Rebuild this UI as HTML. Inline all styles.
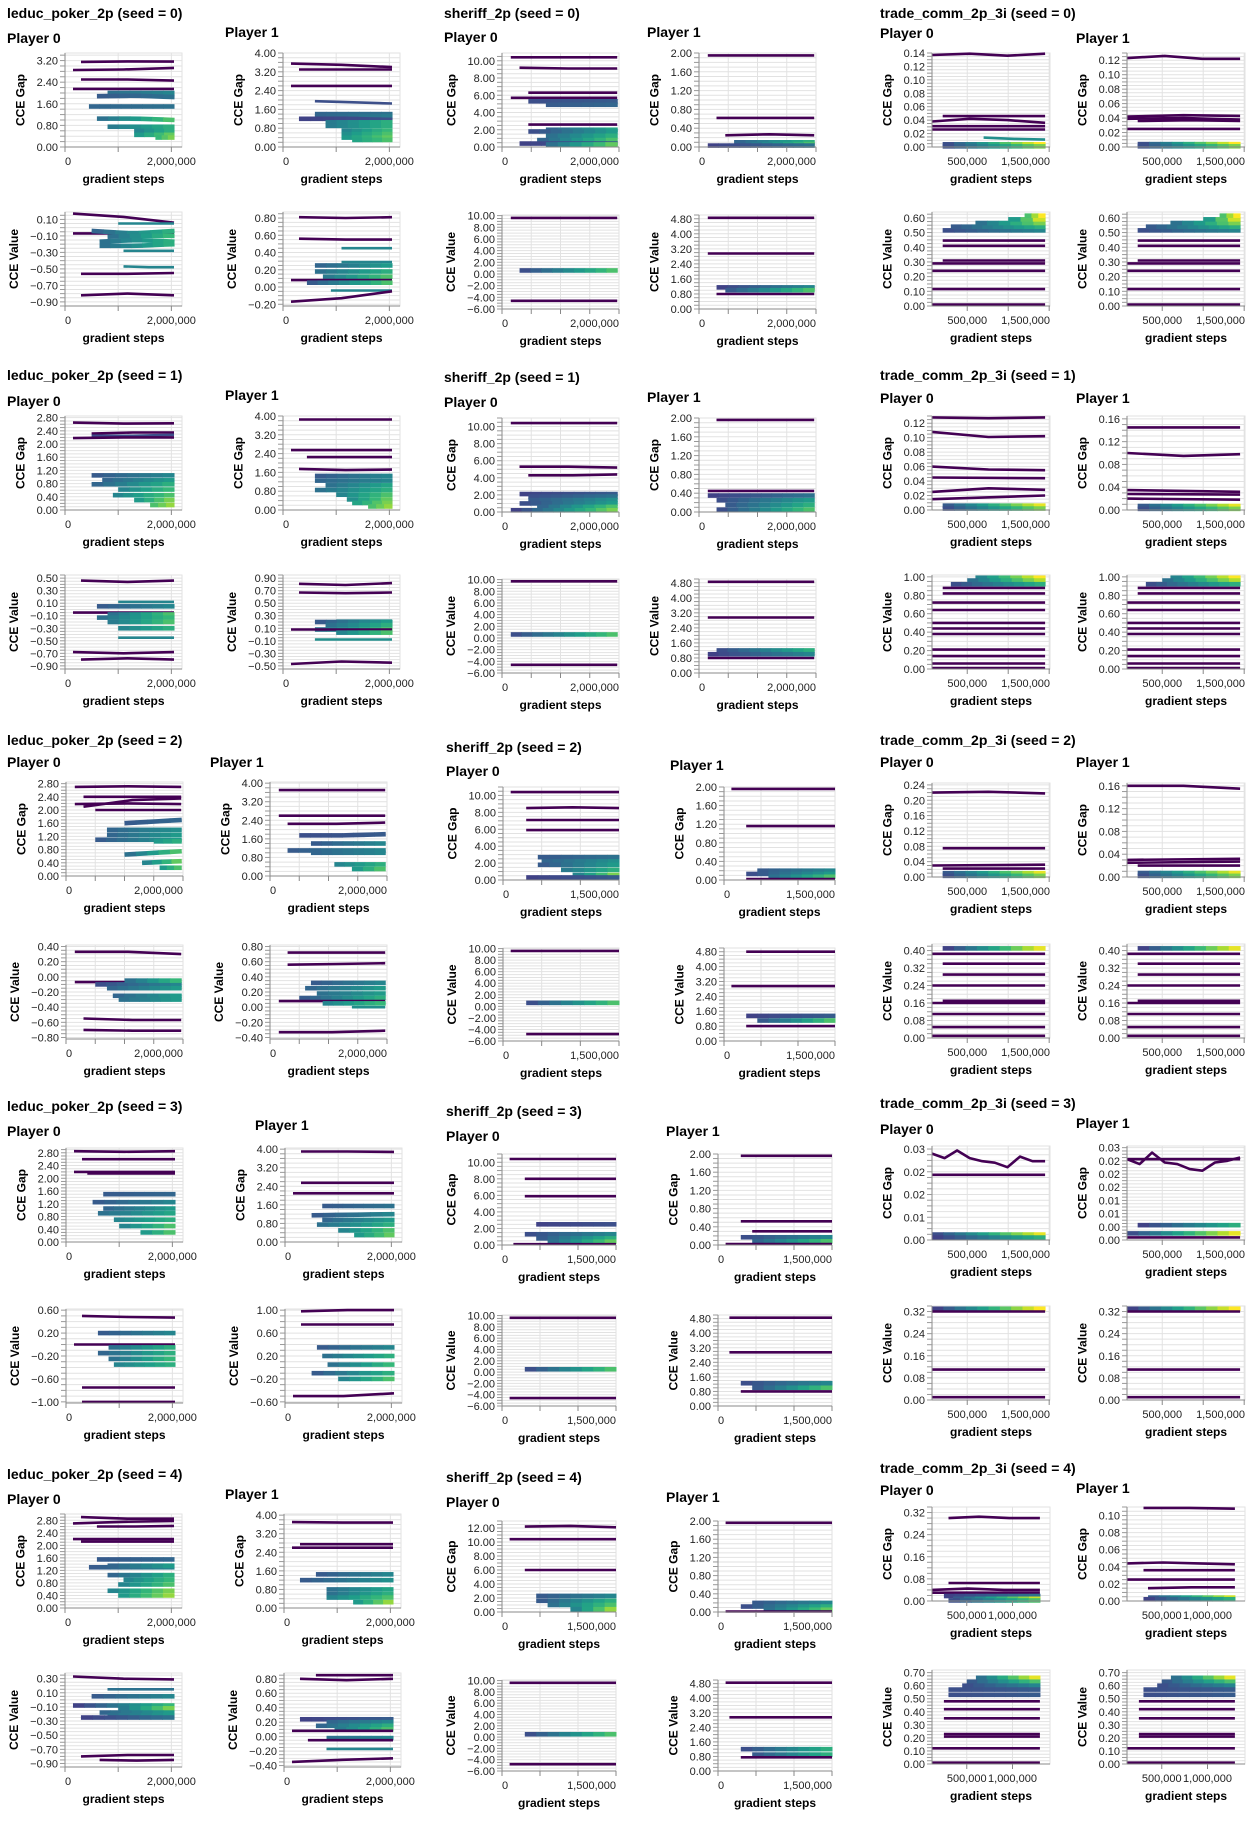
<!DOCTYPE html>
<html><head><meta charset="utf-8">
<style>
html,body{margin:0;padding:0;background:#fff;}
svg{display:block;font-family:"Liberation Sans",Arial,sans-serif;}
</style></head>
<body>
<svg id="root" width="1253" height="1821" viewBox="0 0 1253 1821" xmlns="http://www.w3.org/2000/svg"></svg>
<script>
// ---- data: each line = [startStep(M), colorStart, colorEnd, y values...] ----
const s0_lp_p0_gap=[[0.3,0,0,3.15,3.17,3.16],[0.15,0,0,2.85,2.87,2.93],[0.3,0,0,2.5,2.5,2.46],[0.15,0,0,2.15,2.15,2.15],[0.8,0.2,0.3,2.0,2.0,2.0],[0.6,0.1,0.2,1.88,1.9,1.85],[0.45,0.15,0.2,1.5,1.5,1.5],[0.6,0.2,0.6,1.05,1.05,1.0],[0.8,0.25,0.5,0.75,0.75,0.75],[1.3,0.3,0.5,0.6,0.6,0.6],[1.3,0.4,0.65,0.45,0.45,0.45],[1.7,0.55,0.7,0.35,0.35]];
const s0_lp_p1_gap=[[0.15,0,0,3.55,3.5,3.4],[0.3,0,0,3.3,3.3,3.3],[0.15,0,0,2.6,2.6,2.6],[0.6,0.05,0.05,1.95,1.9,1.85],[0.6,0.15,0.2,1.4,1.4,1.4],[0.6,0.15,0.25,1.3,1.3,1.3],[0.3,0,0.05,1.2,1.2,1.15],[0.8,0.25,0.5,1.05,1.05,1.05],[0.8,0.25,0.5,0.9,0.9,0.9],[1.1,0.3,0.55,0.7,0.7,0.7],[1.1,0.35,0.6,0.55,0.55,0.55],[1.1,0.4,0.65,0.4,0.4,0.4],[1.3,0.45,0.6,0.3,0.3,0.3]];
const s0_lp_p0_val=[[0.15,0,0,0.17,0.13,0.06],[1.0,0.3,0.3,0.05,0.05,0.05],[0.15,0,0,-0.07,-0.07,-0.07],[0.5,0.15,0.5,-0.04,-0.07,-0.04],[0.8,0.2,0.55,-0.11,-0.1,-0.1],[0.65,0.2,0.5,-0.17,-0.15,-0.17],[0.65,0.2,0.5,-0.22,-0.22,-0.2],[1.1,0.3,0.3,-0.28,-0.28,-0.28],[1.1,0.3,0.3,-0.47,-0.48,-0.48],[0.3,0,0,-0.56,-0.56,-0.55],[0.3,0,0,-0.82,-0.8,-0.82]];
const s0_lp_p1_val=[[0.3,0,0,0.81,0.8,0.81],[0.3,0,0,0.56,0.55,0.55],[1.1,0.3,0.3,0.45,0.45,0.45],[1.1,0.3,0.3,0.29,0.29,0.29],[0.6,0.15,0.4,0.25,0.25,0.25],[0.6,0.2,0.5,0.18,0.18,0.18],[0.75,0.25,0.6,0.12,0.12,0.12],[0.15,0,0,0.08,0.08,0.08],[0.45,0.1,0.6,0.05,0.05,0.05],[0.9,0.3,0.3,-0.04,-0.04,-0.04],[0.15,0,0,-0.17,-0.13,-0.05]];
const s0_sh_p0_gap=[[0.15,0,0,10.4],[0.3,0,0,9.2,9.1,9.1],[0.45,0,0,6.3,6.3,6.3],[0.15,0,0,5.7],[0.45,0.05,0.1,5.3],[0.75,0.1,0.15,4.9],[0.45,0,0,2.6],[0.75,0.15,0.45,2.0],[0.45,0.05,0.4,1.8],[0.75,0.2,0.5,1.3],[0.6,0.15,0.6,0.8],[0.3,0,0.1,0.4],[0.75,0.2,0.65,0.3]];
const s0_sh_p1_gap=[[0.15,0,0,1.95],[0.3,0,0,0.62],[0.45,0,0,0.25,0.27,0.25],[0.6,0.15,0.5,0.1],[0.9,0.25,0.6,0.06],[0.15,0,0.2,0.03]];
const s0_sh_p0_val=[[0.15,0,0,9.6],[0.3,0.05,0.6,0.6],[0.15,0,0,-4.6]];
const s0_sh_p1_val=[[0.15,0,0,4.85],[0.15,0,0,2.95],[0.3,0,0.3,1.15],[0.45,0.1,0.6,1.0],[0.3,0,0,0.8]];
const s0_tc_p0_gap=[[0.07,0,0,0.137,0.139,0.136,0.139],[0.2,0,0,0.046],[0.07,0,0,0.038,0.042,0.04,0.036],[0.07,0,0,0.031],[0.07,0,0,0.026],[0.7,0.35,0.35,0.014,0.012,0.011],[0.2,0.05,0.95,0.004],[0.2,0.05,0.7,0.001]];
const s0_tc_p1_gap=[[0.07,0,0,0.123,0.126,0.122,0.122],[0.07,0,0,0.042,0.044,0.043],[0.07,0,0,0.039,0.04,0.038],[0.2,0,0,0.036,0.037,0.036],[0.07,0,0,0.025],[0.2,0.05,0.95,0.004],[0.2,0.05,0.7,0.001]];
const s0_tc_val=[[0.2,0.05,0.3,0.515],[0.3,0.1,0.5,0.54],[0.6,0.2,0.7,0.565],[1.0,0.4,0.85,0.59],[1.2,0.6,0.95,0.615],[0.2,0,0,0.445],[0.2,0,0,0.41],[0.2,0,0,0.31],[0.07,0,0,0.29],[0.07,0,0,0.24],[0.07,0,0,0.115],[0.07,0,0,0.01]];

const s1_lp_p0_gap=[[0.15,0,0,2.65,2.62,2.63],[0.5,0,0,2.32,2.35,2.35],[0.5,0.05,0.05,2.25,2.25,2.28],[0.15,0,0,2.18,2.2,2.2],[0.5,0.1,0.3,1.05],[0.7,0.15,0.4,0.9],[0.5,0.15,0.5,0.78],[1.0,0.3,0.55,0.62],[0.9,0.3,0.6,0.45],[1.3,0.4,0.7,0.3],[1.6,0.6,0.75,0.15]];
const s1_lp_p1_gap=[[0.3,0,0,3.85],[0.15,0,0,2.55],[0.45,0,0,2.25],[0.3,0,0,1.75,1.7,1.72],[0.6,0.1,0.3,1.45],[0.6,0.15,0.3,1.25],[0.8,0.2,0.45,1.05],[0.6,0.2,0.5,0.85],[1.0,0.3,0.6,0.65],[1.2,0.35,0.65,0.45],[1.3,0.45,0.7,0.3],[1.6,0.6,0.75,0.15]];
const s1_lp_p0_val=[[0.3,0,0,0.46,0.44,0.46],[1.0,0.3,0.3,0.12],[0.6,0.1,0.3,0.05],[0.15,0,0,-0.05],[0.8,0.2,0.6,-0.08],[0.6,0.2,0.55,-0.13],[0.8,0.25,0.6,-0.2],[1.0,0.3,0.5,-0.3],[1.0,0.3,0.3,-0.45],[0.15,0,0,-0.68,-0.7,-0.68],[0.3,0,0,-0.8,-0.78,-0.8]];
const s1_lp_p1_val=[[0.3,0,0,0.81,0.79,0.82],[0.3,0,0,0.67,0.66,0.67],[1.0,0.3,0.3,0.22],[0.6,0.1,0.4,0.2],[0.8,0.2,0.5,0.15],[0.6,0.2,0.6,0.08],[0.15,0,0,0.08],[1.0,0.3,0.6,0.03],[0.6,0.35,0.35,-0.08],[0.15,0,0,-0.47,-0.43,-0.45]];
const s1_sh_p0_gap=[[0.15,0,0,10.4],[0.3,0,0,5.3,5.3,5.2],[0.45,0,0,4.3,4.3,4.4],[0.3,0,0.1,2.1],[0.45,0.05,0.2,1.8],[0.45,0.1,0.35,1.4],[0.3,0.05,0.4,1.0],[0.6,0.15,0.6,0.6],[0.15,0,0.7,0.2]];
const s1_sh_p1_gap=[[0.3,0,0,1.96],[0.15,0,0,0.45],[0.15,0,0.2,0.35],[0.3,0.05,0.4,0.25],[0.45,0.1,0.5,0.15],[0.3,0.05,0.6,0.05]];
const s1_sh_p0_val=[[0.15,0,0,9.7],[0.15,0.05,0.6,0.6],[0.15,0,0,-4.6]];
const s1_sh_p1_val=[[0.15,0,0,4.85],[0.15,0,0,2.95],[0.3,0.05,0.5,1.2],[0.15,0,0.3,1.0],[0.15,0,0,0.8]];
const s1_tc_p0_gap=[[0.07,0,0,0.128,0.127,0.128],[0.07,0,0,0.108,0.101,0.102],[0.07,0,0,0.06,0.056,0.055],[0.07,0,0,0.045,0.044],[0.07,0,0,0.025,0.03,0.028],[0.07,0,0,0.015,0.02],[0.2,0.1,0.9,0.006],[0.2,0.05,0.7,0.002]];
const s1_tc_p1_gap=[[0.07,0,0,0.145],[0.07,0,0,0.1,0.095,0.098],[0.07,0,0,0.035,0.032],[0.07,0,0,0.028,0.027],[0.07,0,0,0.02,0.018],[0.2,0.1,0.9,0.007],[0.2,0.05,0.7,0.002]];
const s1_tc_val=[[0.6,0.3,0.95,0.99],[0.5,0.2,0.8,0.96],[0.3,0.05,0.5,0.92],[0.2,0,0,0.88],[0.2,0,0,0.82],[0.07,0,0,0.72],[0.07,0,0,0.64],[0.07,0,0,0.5],[0.07,0,0,0.44],[0.07,0,0,0.38],[0.07,0,0,0.21],[0.07,0,0,0.14],[0.07,0,0,0.06],[0.07,0,0,0.01]];

const s2_lp_p0_gap=[[0.15,0,0,2.7,2.72,2.7],[0.3,0,0,2.4],[0.15,0,0,2.18,2.2,2.18],[0.3,0,0,2.1,2.3,2.35],[0.5,0,0,2.0],[1.0,0.1,0.15,1.6,1.65,1.7],[0.7,0.15,0.35,1.4],[0.7,0.15,0.4,1.25],[0.5,0.1,0.4,1.1],[1.5,0.4,0.5,1.05],[1.0,0.2,0.6,0.65,0.7,0.75],[1.3,0.3,0.65,0.4,0.45],[1.6,0.4,0.6,0.25]];
const s2_lp_p1_gap=[[0.15,0,0,3.7],[0.15,0,0,2.6],[0.3,0,0,2.25,2.25,2.3],[0.5,0.05,0.1,1.75,1.75,1.8],[0.7,0.1,0.3,1.4],[0.3,0.1,0.3,1.1],[0.7,0.15,0.3,1.0],[1.1,0.3,0.5,0.5],[1.4,0.4,0.6,0.3]];
const s2_lp_p0_val=[[0.15,0,0,0.33,0.33,0.3],[0.15,0,0,-0.07],[0.5,0.05,0.3,-0.1],[1.0,0.2,0.55,-0.05],[0.7,0.15,0.4,-0.15],[0.8,0.15,0.4,-0.25],[0.9,0.2,0.4,-0.3],[0.3,0,0,-0.55,-0.57,-0.57],[0.3,0,0,-0.7,-0.71,-0.71]];
const s2_lp_p1_val=[[0.3,0,0,0.72],[0.3,0,0,0.56,0.57,0.58],[0.7,0.1,0.3,0.32],[0.6,0.15,0.4,0.25],[0.8,0.2,0.4,0.18],[0.5,0.1,0.5,0.12],[0.15,0,0,0.08],[0.9,0.3,0.55,0.05],[1.4,0.35,0.35,0.0],[0.15,0,0,-0.33,-0.33,-0.31]];
const s2_sh_p0_gap=[[0.1,0,0,10.4],[0.3,0,0,8.5,8.6,8.5],[0.3,0,0,7.1],[0.3,0,0,5.9],[0.45,0.1,0.2,2.7],[0.5,0.15,0.35,2.2],[0.45,0.1,0.4,1.8],[0.75,0.25,0.5,1.2],[0.9,0.3,0.7,0.6],[0.3,0,0.1,0.3]];
const s2_sh_p1_gap=[[0.1,0,0,1.96],[0.3,0,0,1.16],[0.45,0.1,0.3,0.2],[0.3,0.05,0.4,0.13],[0.6,0.2,0.6,0.07],[0.3,0,0,0.02]];
const s2_sh_p0_val=[[0.1,0,0,9.6],[0.3,0.05,0.6,0.6],[0.3,0,0,-4.8]];
const s2_sh_p1_val=[[0.3,0,0,4.8],[0.1,0,0,2.95],[0.3,0,0.1,1.35],[0.45,0.1,0.6,1.1],[0.3,0,0,0.8]];
const s2_tc_p0_gap=[[0.07,0,0,0.22,0.222,0.218],[0.2,0,0,0.075],[0.07,0,0,0.03,0.032],[0.2,0,0,0.022],[0.2,0.1,0.9,0.01],[0.2,0.05,0.7,0.003]];
const s2_tc_p1_gap=[[0.07,0,0,0.16,0.16,0.155],[0.07,0,0,0.03,0.032],[0.07,0,0,0.025,0.027],[0.2,0,0,0.02],[0.2,0.1,0.9,0.007],[0.2,0.05,0.7,0.002]];
const s2_tc_val=[[0.2,0,0.9,0.41],[0.07,0,0,0.385],[0.2,0,0,0.34],[0.2,0,0,0.29],[0.07,0,0,0.24],[0.2,0,0,0.17],[0.07,0,0,0.16],[0.07,0,0,0.11],[0.07,0,0,0.05],[0.07,0,0,0.01]];

const s3_lp_p0_gap=[[0.15,0,0,2.85,2.83,2.85],[0.3,0,0,2.6],[0.15,0,0,2.2],[0.4,0,0,2.15],[0.7,0.1,0.15,1.5],[0.5,0.1,0.3,1.25],[0.7,0.15,0.4,1.05],[0.6,0.2,0.45,0.9],[0.9,0.3,0.5,0.7],[1.0,0.3,0.6,0.5],[1.4,0.4,0.6,0.3]];
const s3_lp_p1_gap=[[0.3,0,0,3.9,3.9,3.88],[0.3,0,0,2.55],[0.15,0,0,2.1],[0.7,0.1,0.2,1.55],[0.5,0.1,0.3,1.15,1.2],[0.7,0.15,0.4,0.95],[0.6,0.2,0.5,0.75],[1.0,0.3,0.6,0.5],[1.3,0.4,0.65,0.3]];
const s3_lp_p0_val=[[0.3,0,0,0.5,0.48,0.47],[0.6,0.1,0.3,0.2],[0.15,0,0,0.0],[0.8,0.2,0.5,-0.05],[0.6,0.15,0.5,-0.15],[0.8,0.2,0.55,-0.25],[0.9,0.3,0.5,-0.35],[0.3,0,0,-0.75],[0.3,0,0,-1.0]];
const s3_lp_p1_val=[[0.3,0,0,0.98,1.0,1.0],[0.3,0,0,0.75],[0.6,0.1,0.3,0.35],[0.7,0.2,0.5,0.2],[0.8,0.2,0.55,0.05],[0.5,0.1,0.5,-0.1],[1.0,0.3,0.6,-0.2],[0.15,0,0,-0.5,-0.5,-0.45]];
const s3_sh_p0_gap=[[0.1,0,0,10.4],[0.3,0,0,8.0],[0.3,0,0,5.9],[0.45,0,0.05,2.5],[0.3,0.05,0.3,1.3],[0.45,0.1,0.5,0.8],[0.6,0.2,0.65,0.4],[0.15,0,0,0.1]];
const s3_sh_p1_gap=[[0.3,0,0,1.96],[0.3,0,0,0.52],[0.45,0,0,0.3],[0.3,0.05,0.3,0.17],[0.45,0.15,0.6,0.08],[0.1,0,0,0.02]];
const s3_sh_p0_val=[[0.1,0,0,9.6],[0.3,0.05,0.6,0.5],[0.1,0,0,-4.6]];
const s3_sh_p1_val=[[0.15,0,0,4.85],[0.15,0,0,2.95],[0.3,0.05,0.3,1.25],[0.45,0.1,0.6,1.0],[0.3,0,0,0.8]];
const s3_tc_p0_gap=[[0.07,0,0,0.0285,0.027,0.0295,0.027,0.026,0.0255,0.024,0.0275,0.026,0.026],[0.07,0,0,0.0215],[0.07,0.05,0.9,0.0018],[0.07,0,0.5,0.0008]];
const s3_tc_p1_gap=[[0.07,0,0,0.0245,0.023,0.0265,0.0235,0.023,0.0215,0.021,0.0235,0.024,0.025],[0.07,0,0,0.0245],[0.2,0,0.5,0.0045],[0.07,0.05,0.9,0.002],[0.07,0,0,0.0008]];
const s3_tc_val=[[0.07,0,0.95,0.33],[0.07,0,0,0.32],[0.07,0,0,0.11],[0.07,0,0,0.01]];

const s4_lp_p0_gap=[[0.3,0,0,2.9,2.85,2.85],[0.15,0,0,2.7,2.75,2.78],[0.6,0,0,2.6,2.6,2.62],[0.15,0,0,2.2,2.2],[0.3,0,0,2.12,2.12],[0.6,0.1,0.15,1.55],[0.45,0.1,0.3,1.3],[0.8,0.15,0.4,1.35],[0.8,0.15,0.5,1.05],[1.1,0.3,0.55,0.9],[1.0,0.3,0.6,0.75],[0.8,0.3,0.7,0.55],[1.0,0.4,0.75,0.4]];
const s4_lp_p1_gap=[[0.15,0,0,3.7,3.68,3.68],[0.3,0,0,2.75],[0.15,0,0,2.6],[0.6,0.1,0.3,1.45],[0.3,0.1,0.35,1.2],[0.8,0.2,0.45,0.8],[0.8,0.2,0.5,0.6],[0.8,0.3,0.6,0.45],[1.3,0.4,0.75,0.25]];
const s4_lp_p0_val=[[0.15,0,0,0.33,0.3,0.29],[0.8,0.2,0.2,0.15],[0.5,0.1,0.3,0.05],[0.15,0,0.55,-0.08],[1.0,0.25,0.7,-0.12],[0.65,0.15,0.4,-0.18],[0.8,0.2,0.4,-0.22],[0.3,0,0.2,-0.25],[0.3,0,0,-0.8,-0.78,-0.78],[0.65,0,0,-0.85,-0.86,-0.85]];
const s4_lp_p1_val=[[0.6,0,0,0.85,0.85,0.85],[0.3,0,0,0.8,0.78,0.8],[0.3,0,0.1,0.24],[0.8,0.15,0.3,0.2],[0.6,0.15,0.5,0.15],[0.95,0.25,0.6,0.1],[0.15,0,0,0.08],[0.8,0.2,0.3,-0.02],[0.45,0,0,-0.05],[0.8,0.3,0.3,-0.17],[0.15,0,0,-0.35,-0.32,-0.3]];
const s4_sh_p0_gap=[[0.3,0,0,12.2,12.3,12.1],[0.1,0,0,10.4],[0.3,0,0,6.0],[0.45,0.1,0.3,2.3],[0.45,0.1,0.5,1.6],[0.6,0.2,0.6,1.0],[0.9,0.3,0.75,0.4]];
const s4_sh_p1_gap=[[0.1,0,0,1.96],[0.45,0.1,0.3,0.2],[0.3,0.05,0.5,0.12],[0.6,0.2,0.65,0.05],[0.1,0,0,0.01]];
const s4_sh_p0_val=[[0.1,0,0,9.6],[0.3,0.05,0.6,0.5],[0.1,0,0,-4.8]];
const s4_sh_p1_val=[[0.1,0,0,4.85],[0.15,0,0,2.95],[0.3,0.05,0.5,1.2],[0.45,0.1,0.5,0.9],[0.3,0,0,0.75]];
const s4_tc_p0_gap=[[0.3,0,0,0.3,0.305,0.3,0.3],[0.3,0,0,0.065],[0.12,0,0,0.04,0.045,0.04,0.04],[0.12,0,0,0.03],[0.25,0,0.2,0.018],[0.35,0.1,0.85,0.008],[0.3,0.05,0.6,0.002]];
const s4_tc_p1_gap=[[0.3,0,0,0.109,0.109,0.108],[0.12,0,0,0.044,0.045,0.044,0.043],[0.3,0,0,0.036],[0.12,0,0,0.025],[0.35,0,0,0.015,0.016,0.016],[0.35,0.1,0.85,0.004],[0.3,0,0.5,0.002]];
const s4_tc_val=[[0.6,0.2,0.9,0.66],[0.5,0.1,0.6,0.63],[0.45,0.05,0.3,0.6],[0.3,0.05,0.1,0.57],[0.3,0.05,0.1,0.53],[0.25,0,0,0.48],[0.25,0,0,0.42],[0.25,0,0,0.35],[0.25,0,0,0.23],[0.25,0,0,0.21],[0.12,0,0,0.12],[0.12,0,0,0.01]];

// tick label overrides
const s3_tc_p0_ticks=[0,0.0075,0.015,0.0225,0.03];
const s3_tc_p0_labels=["0.00","0.01","0.02","0.02","0.03"];

// ---- axis configs ----
const AX_LP_WIDE={xd:[0,2.2],xend:2.05,grid:[0,1,2],labels:[[0,"0","start"],[2,"2,000,000","middle"]]};
const AX_HALF2={xd:[0,2],xend:1.97,grid:[0,0.5,1,1.5,2],labels:[[0,"0","start"],[2,"2,000,000","end"]]};
const AX_HALF15={xd:[0,1.5],xend:1.5,grid:[0,0.5,1,1.5],labels:[[0,"0","start"],[1.5,"1,500,000","end"]]};
const AX_TC={xd:[0.07,1.51],xend:1.45,grid:[0.5,1,1.5],labels:[[0.5,"500,000","middle"],[1.51,"1,500,000","end"]]};
const AX_TC4={xd:[0.12,1.41],xend:1.3,grid:[0.5,1],labels:[[0.5,"500,000","middle"],[1.0,"1,000,000","middle"]]};

const NS="http://www.w3.org/2000/svg";
const root=document.getElementById('root');
const VIR=['#440154','#482878','#3e4989','#31688e','#26828e','#1f9e89','#35b779','#6ece58','#b5de2b','#fde725'];
function hex(h){return [parseInt(h.slice(1,3),16),parseInt(h.slice(3,5),16),parseInt(h.slice(5,7),16)];}
function vir(t){t=Math.max(0,Math.min(1,t));const f=t*9,i=Math.min(8,Math.floor(f)),r=f-i;const a=hex(VIR[i]),b=hex(VIR[i+1]);
return 'rgb('+a.map((v,k)=>Math.round(v+(b[k]-v)*r)).join(',')+')';}
function el(tag,attrs,parent){const e=document.createElementNS(NS,tag);for(const k in attrs)e.setAttribute(k,attrs[k]);(parent||root).appendChild(e);return e;}
function txt(x,y,s,attrs,parent){const t=el('text',Object.assign({x:x,y:y},attrs),parent);t.textContent=s;return t;}
function fmt(v){if(Math.abs(v)<1e-9)v=0;let s=v.toFixed(2);return s.replace('-','\u2212');}
function labW(s){let w=0;for(const c of s){w+= c==='.'?3.05:(c==='\u2212'?6.4:6.12);}return w;}

function panel(P){
  const g=el('g',{});
  
  
  const A=P.ax,x0=A.xd[0],x1=A.xd[1],y0=P.yd[0],y1=P.yd[1];
  const sx=v=>P.x+(v-x0)/(x1-x0)*P.w;
  const sy=v=>P.y+P.h-(v-y0)/(y1-y0)*P.h;
  let majors=[],minors=[];
  if(P.tv){majors=P.tv.map((v,i)=>[v,P.tl[i]]);
    for(let i=0;i<P.tv.length-1;i++){for(let k=0;k<4;k++)minors.push(P.tv[i]+(P.tv[i+1]-P.tv[i])*k/4);}minors.push(P.tv[P.tv.length-1]);}
  else{const f=P.yt[0],st=P.yt[1];
    for(let k=0;;k++){const v=f+k*st;if(v>y1+1e-9)break;if(v>=y0-1e-9)majors.push([v,fmt(v)]);}
    for(let k=-8;;k++){const v=f+k*st/4;if(v>y1+1e-9)break;if(v>=y0-1e-9)minors.push(v);}}
  const grid=el('g',{stroke:'#e2e2e2','stroke-width':1},g);
  
  
  minors.forEach(v=>el('line',{x1:P.x,x2:P.x+P.w,y1:sy(v),y2:sy(v)},grid));
  A.grid.forEach(v=>el('line',{x1:sx(v),x2:sx(v),y1:P.y,y2:P.y+P.h},grid));
  el('rect',{x:P.x,y:P.y,width:P.w,height:P.h,fill:'none',stroke:'#e2e2e2'},g);
  const marks=el('g',{fill:'none','stroke-linecap':'butt'},g);
  
  
  P.lines.forEach(L=>{
    const xs=L[0],c0=L[1],c1=L[2];let ys=L.slice(3);if(ys.length===1)ys=[ys[0],ys[0]];
    const n=ys.length,xe=A.xend;
    const yAt=u=>{const f=u*(n-1),i=Math.min(n-2,Math.floor(f)),r=f-i;return ys[i]+(ys[i+1]-ys[i])*r;};
    if(c1>c0){
      const len=sx(xe)-sx(xs),N=Math.max(3,Math.round(len/11));
      for(let k=0;k<N;k++){const ua=k/N,ub=(k+1)/N;
        const t=c0+(c1-c0)*k/(N-1);
        const s=el('line',{x1:sx(xs+(xe-xs)*ua),x2:sx(xs+(xe-xs)*ub)+0.5,y1:sy(yAt(ua)),y2:sy(yAt(ub)),stroke:vir(0.2+0.85*t),'stroke-width':4.6},marks);
        
        }
    }else{
      const pts=ys.map((v,i)=>sx(xs+(xe-xs)*i/(n-1)).toFixed(1)+','+sy(v).toFixed(1)).join(' ');
      const col=c0>0?vir(0.2+0.85*c0):vir(0);
      const pl=el('polyline',{points:pts,stroke:col,'stroke-width':2.6,'stroke-linejoin':'round'},marks);
      
      }
  });
  const ax=el('g',{},g);
  
  
  el('line',{x1:P.x,x2:P.x,y1:P.y,y2:P.y+P.h,stroke:'#888'},ax);
  el('line',{x1:P.x,x2:P.x+P.w,y1:P.y+P.h,y2:P.y+P.h,stroke:'#888'},ax);
  minors.forEach(v=>el('line',{x1:P.x-5,x2:P.x,y1:sy(v),y2:sy(v),stroke:'#999'},ax));
  let mw=0;
  majors.forEach(m=>{txt(P.x-7,sy(m[0])+4,m[1],{'font-size':11,'text-anchor':'end',fill:'#222'},ax);mw=Math.max(mw,labW(m[1]));});
  A.grid.forEach(v=>el('line',{x1:sx(v),x2:sx(v),y1:P.y+P.h,y2:P.y+P.h+5,stroke:'#888'},ax));
  A.labels.forEach(l=>{let px=Math.min(sx(l[0]),P.x+P.w);txt(px,P.y+P.h+18,l[1],{'font-size':11,'text-anchor':l[2],fill:'#222'},ax);});
  const xt=txt(P.x+P.w/2,P.y+P.h+36,'gradient steps',{'font-size':12,'font-weight':'bold','text-anchor':'middle',fill:'#000'},ax);
  
  
  const tx=P.x-7-mw-12,ty=P.y+P.h/2;
  const yt=txt(tx,ty,P.ytitle,{'font-size':12,'font-weight':'bold','text-anchor':'middle',fill:'#000',transform:'rotate(-90 '+tx+' '+ty+')'},ax);
  
  
}

function title(x,y,s,size,name){const t=txt(x,y+5,s,{'font-size':size,'font-weight':'bold',fill:'#000'});
  
  }

const GAMES=['leduc_poker_2p','sheriff_2p','trade_comm_2p_3i'];
const LAYOUT=[
 [0,0,[7,13],[7,38],[225,32],65,283,117,117,53,212,94,AX_LP_WIDE],
 [0,1,[444,13],[444,37],[647,32],502,699,117,117,53,215,94,AX_HALF2],
 [0,2,[880,13],[880,33],[1076,38],932,1127,118,118,53,212,94,AX_TC],
 [1,0,[7,375],[7,401],[225,395],65,283,117,117,416,575,94,AX_LP_WIDE],
 [1,1,[444,377],[444,402],[647,397],502,699,117,117,418,579,94,AX_HALF2],
 [1,2,[880,375],[880,398],[1076,398],932,1127,118,118,416,575,94,AX_TC],
 [2,0,[7,740],[7,762],[210,762],66,270,117,117,782,945,94,AX_HALF2],
 [2,1,[446,747],[446,771],[670,765],503,724,116,111,787,948,93,AX_HALF15],
 [2,2,[880,740],[880,762],[1076,762],932,1127,118,118,783,944,94,AX_TC],
 [3,0,[7,1106],[7,1131],[255,1125],66,285,117,117,1148,1309,94,AX_LP_WIDE],
 [3,1,[446,1111],[446,1136],[666,1131],502,718,114,114,1154,1315,91,AX_HALF15],
 [3,2,[880,1103],[880,1129],[1076,1123],932,1127,118,118,1146,1306,94,AX_TC],
 [4,0,[7,1474],[7,1499],[225,1494],65,284,117,117,1514,1673,94,AX_LP_WIDE],
 [4,1,[446,1477],[446,1502],[666,1497],502,718,114,114,1521,1680,91,AX_HALF15],
 [4,2,[880,1468],[880,1490],[1076,1488],932,1127,118,118,1507,1670,94,AX_TC4]
];
const DOM={
 '0,0':[[[0,3.48],[0,0.8],s0_lp_p0_gap],[[0,4.0],[0,0.8],s0_lp_p1_gap],[[-0.95,0.19],[-0.9,0.2],s0_lp_p0_val],[[-0.22,0.87],[-0.2,0.2],s0_lp_p1_val]],
 '0,1':[[[0,10.9],[0,2],s0_sh_p0_gap],[[0,2.0],[0,0.4],s0_sh_p1_gap],[[-6,10.1],[-6,2],s0_sh_p0_val],[[0,5.0],[0,0.8],s0_sh_p1_val]],
 '0,2':[[[0,0.14],[0,0.02],s0_tc_p0_gap],[[0,0.13],[0,0.02],s0_tc_p1_gap],[[0,0.64],[0,0.1],s0_tc_val],[[0,0.64],[0,0.1],s0_tc_val]],
 '1,0':[[[0,2.85],[0,0.4],s1_lp_p0_gap],[[0,4.0],[0,0.8],s1_lp_p1_gap],[[-0.95,0.55],[-0.9,0.2],s1_lp_p0_val],[[-0.55,0.95],[-0.5,0.2],s1_lp_p1_val]],
 '1,1':[[[0,11],[0,2],s1_sh_p0_gap],[[0,2.0],[0,0.4],s1_sh_p1_gap],[[-6,10.1],[-6,2],s1_sh_p0_val],[[0,5.0],[0,0.8],s1_sh_p1_val]],
 '1,2':[[[0,0.13],[0,0.02],s1_tc_p0_gap],[[0,0.165],[0,0.04],s1_tc_p1_gap],[[0,1.02],[0,0.2],s1_tc_val],[[0,1.02],[0,0.2],s1_tc_val]],
 '2,0':[[[0,2.85],[0,0.4],s2_lp_p0_gap],[[0,4.05],[0,0.8],s2_lp_p1_gap],[[-0.82,0.42],[-0.8,0.2],s2_lp_p0_val],[[-0.42,0.82],[-0.4,0.2],s2_lp_p1_val]],
 '2,1':[[[0,11],[0,2],s2_sh_p0_gap],[[0,2.0],[0,0.4],s2_sh_p1_gap],[[-6,10.1],[-6,2],s2_sh_p0_val],[[0,5.0],[0,0.8],s2_sh_p1_val]],
 '2,2':[[[0,0.245],[0,0.04],s2_tc_p0_gap],[[0,0.165],[0,0.04],s2_tc_p1_gap],[[0,0.43],[0,0.08],s2_tc_val],[[0,0.43],[0,0.08],s2_tc_val]],
 '3,0':[[[0,2.95],[0,0.4],s3_lp_p0_gap],[[0,4.05],[0,0.8],s3_lp_p1_gap],[[-1.02,0.62],[-1,0.4],s3_lp_p0_val],[[-0.62,1.02],[-0.6,0.4],s3_lp_p1_val]],
 '3,1':[[[0,11],[0,2],s3_sh_p0_gap],[[0,2.0],[0,0.4],s3_sh_p1_gap],[[-6,10.1],[-6,2],s3_sh_p0_val],[[0,5.0],[0,0.8],s3_sh_p1_val]],
 '3,2':[[[0,0.031],null,s3_tc_p0_gap],[[0,0.0285],[0,0.004],s3_tc_p1_gap],[[0,0.34],[0,0.08],s3_tc_val],[[0,0.34],[0,0.08],s3_tc_val]],
 '4,0':[[[0,3.0],[0,0.4],s4_lp_p0_gap],[[0,4.05],[0,0.8],s4_lp_p1_gap],[[-0.95,0.38],[-0.9,0.2],s4_lp_p0_val],[[-0.42,0.88],[-0.4,0.2],s4_lp_p1_val]],
 '4,1':[[[0,13],[0,2],s4_sh_p0_gap],[[0,2.0],[0,0.4],s4_sh_p1_gap],[[-6,10.1],[-6,2],s4_sh_p0_val],[[0,5.0],[0,0.8],s4_sh_p1_val]],
 '4,2':[[[0,0.34],[0,0.08],s4_tc_p0_gap],[[0,0.11],[0,0.02],s4_tc_p1_gap],[[0,0.72],[0,0.1],s4_tc_val],[[0,0.72],[0,0.1],s4_tc_val]]
};
LAYOUT.forEach(B=>{
  const [s,gi,tp,p0t,p1t,p0x,p1x,w0,w1,gt,vt,h,ax]=B;
  title(tp[0],tp[1],GAMES[gi]+' (seed = '+s+')',14,'facet-title');
  title(p0t[0],p0t[1],'Player 0',14,'player-title');
  title(p1t[0],p1t[1],'Player 1',14,'player-title');
  const D=DOM[s+','+gi];
  const specs=[[p0x,w0,gt,'CCE Gap',D[0],'p0-gap'],[p1x,w1,gt,'CCE Gap',D[1],'p1-gap'],[p0x,w0,vt,'CCE Value',D[2],'p0-value'],[p1x,w1,vt,'CCE Value',D[3],'p1-value']];
  specs.forEach(sp=>{
    const P={x:sp[0],w:sp[1],y:sp[2],h:h,ytitle:sp[3],yd:sp[4][0],yt:sp[4][1],lines:sp[4][2],ax:ax,name:'panel-s'+s+'-'+GAMES[gi]+'-'+sp[5]};
    if(sp[4][1]===null){P.tv=s3_tc_p0_ticks;P.tl=s3_tc_p0_labels;}
    panel(P);
  });
});
</script>
</body></html>
